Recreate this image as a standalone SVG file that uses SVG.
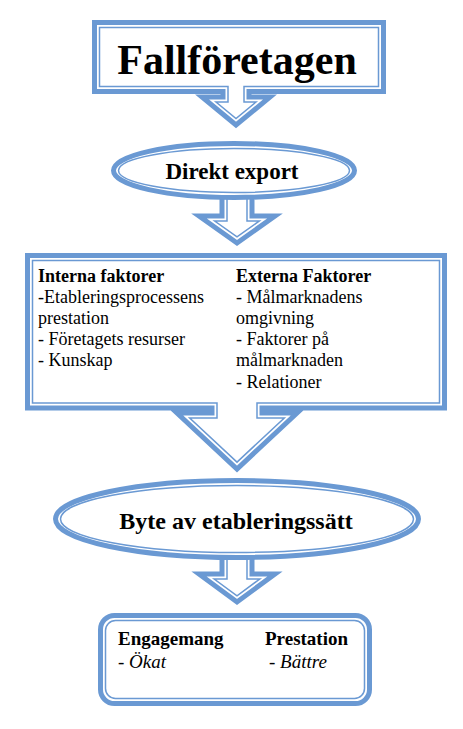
<svg xmlns="http://www.w3.org/2000/svg" width="463" height="729" viewBox="0 0 463 729">
<style>
.thick{fill:#fff;stroke:#6a99d3;stroke-width:5;stroke-linejoin:miter}
.thin{fill:none;stroke:#6a99d3;stroke-width:1.5;stroke-linejoin:miter}
text{font-family:"Liberation Serif","Times New Roman",serif;fill:#000}
.b{font-weight:bold}
.i{font-style:italic}
.body{font-size:18px}
.body2{font-size:19px}
</style>
<rect width="463" height="729" fill="#fff"/>
<g id="connectors">
  <g id="arrow-direkt-to-faktorer">
    <path class="thick" d="M222,196 H252 V216 H275 L237,243 L199,216 H222 Z"/>
    <path class="thin" d="M227,190 H247 V221 H259.3 L237,236.8 L214.7,221 H227 Z"/>
  </g>
  <g id="arrow-byte-to-result">
    <path class="thick" d="M222,556 H252 V574 H275 L237,602 L199,574 H222 Z"/>
    <path class="thin" d="M227,550 H247 V579 H259.8 L237,595.8 L214.2,579 H227 Z"/>
  </g>
</g>
<g id="node-fallforetagen">
  <path class="thick" d="M94.5,22.5 H383.5 V91.5 H249 V97 H270 L236,125 L202,97 H223 V91.5 H94.5 Z"/>
  <path class="thin" d="M99.5,27.5 H378.5 V86.5 H244 V102 H256 L236,118.5 L216,102 H228 V86.5 H99.5 Z"/>
  <text x="237" y="74" text-anchor="middle" class="b" font-size="42">Fallföretagen</text>
</g>
<g id="node-direkt-export">
  <ellipse class="thick" cx="234" cy="170.5" rx="120.5" ry="27"/>
  <ellipse class="thin" cx="234" cy="170.5" rx="115.5" ry="22"/>
  <text x="232" y="179" text-anchor="middle" class="b" font-size="23">Direkt export</text>
</g>
<g id="node-faktorer">
  <path class="thick" d="M27.5,255.5 H444.5 V408 H262 V413 H297 L237,469 L177,413 H212 V408 H27.5 Z"/>
  <path class="thin" d="M32.5,260.5 H439.5 V403 H257 V418 H284.3 L237,462.1 L189.7,418 H217 V403 H32.5 Z"/>
  <g class="body">
    <text x="38" y="281.5" class="b">Interna faktorer</text>
    <text x="38" y="302.7">-Etableringsprocessens</text>
    <text x="38" y="323.9">prestation</text>
    <text x="38" y="345.1">- Företagets resurser</text>
    <text x="38" y="366.3">- Kunskap</text>
    <text x="236" y="281.5" class="b">Externa Faktorer</text>
    <text x="236" y="302.7">- Målmarknadens</text>
    <text x="236" y="323.9">omgivning</text>
    <text x="236" y="345.1">- Faktorer på</text>
    <text x="236" y="366.3">målmarknaden</text>
    <text x="236" y="387.5">- Relationer</text>
  </g>
</g>
<g id="node-byte">
  <ellipse class="thick" cx="237" cy="519" rx="181.5" ry="38.5"/>
  <ellipse class="thin" cx="237" cy="519" rx="176.5" ry="33.5"/>
  <text x="236" y="529" text-anchor="middle" class="b" font-size="24">Byte av etableringssätt</text>
</g>
<g id="node-resultat">
  <rect class="thick" x="100.5" y="615.5" width="269" height="88" rx="14"/>
  <rect class="thin" x="105.5" y="620.5" width="259" height="78" rx="10"/>
  <g class="body2">
    <text x="118" y="645" class="b">Engagemang</text>
    <text x="118" y="668" class="i">- Ökat</text>
    <text x="265" y="645" class="b">Prestation</text>
    <text x="269" y="668" class="i">- Bättre</text>
  </g>
</g>
</svg>
